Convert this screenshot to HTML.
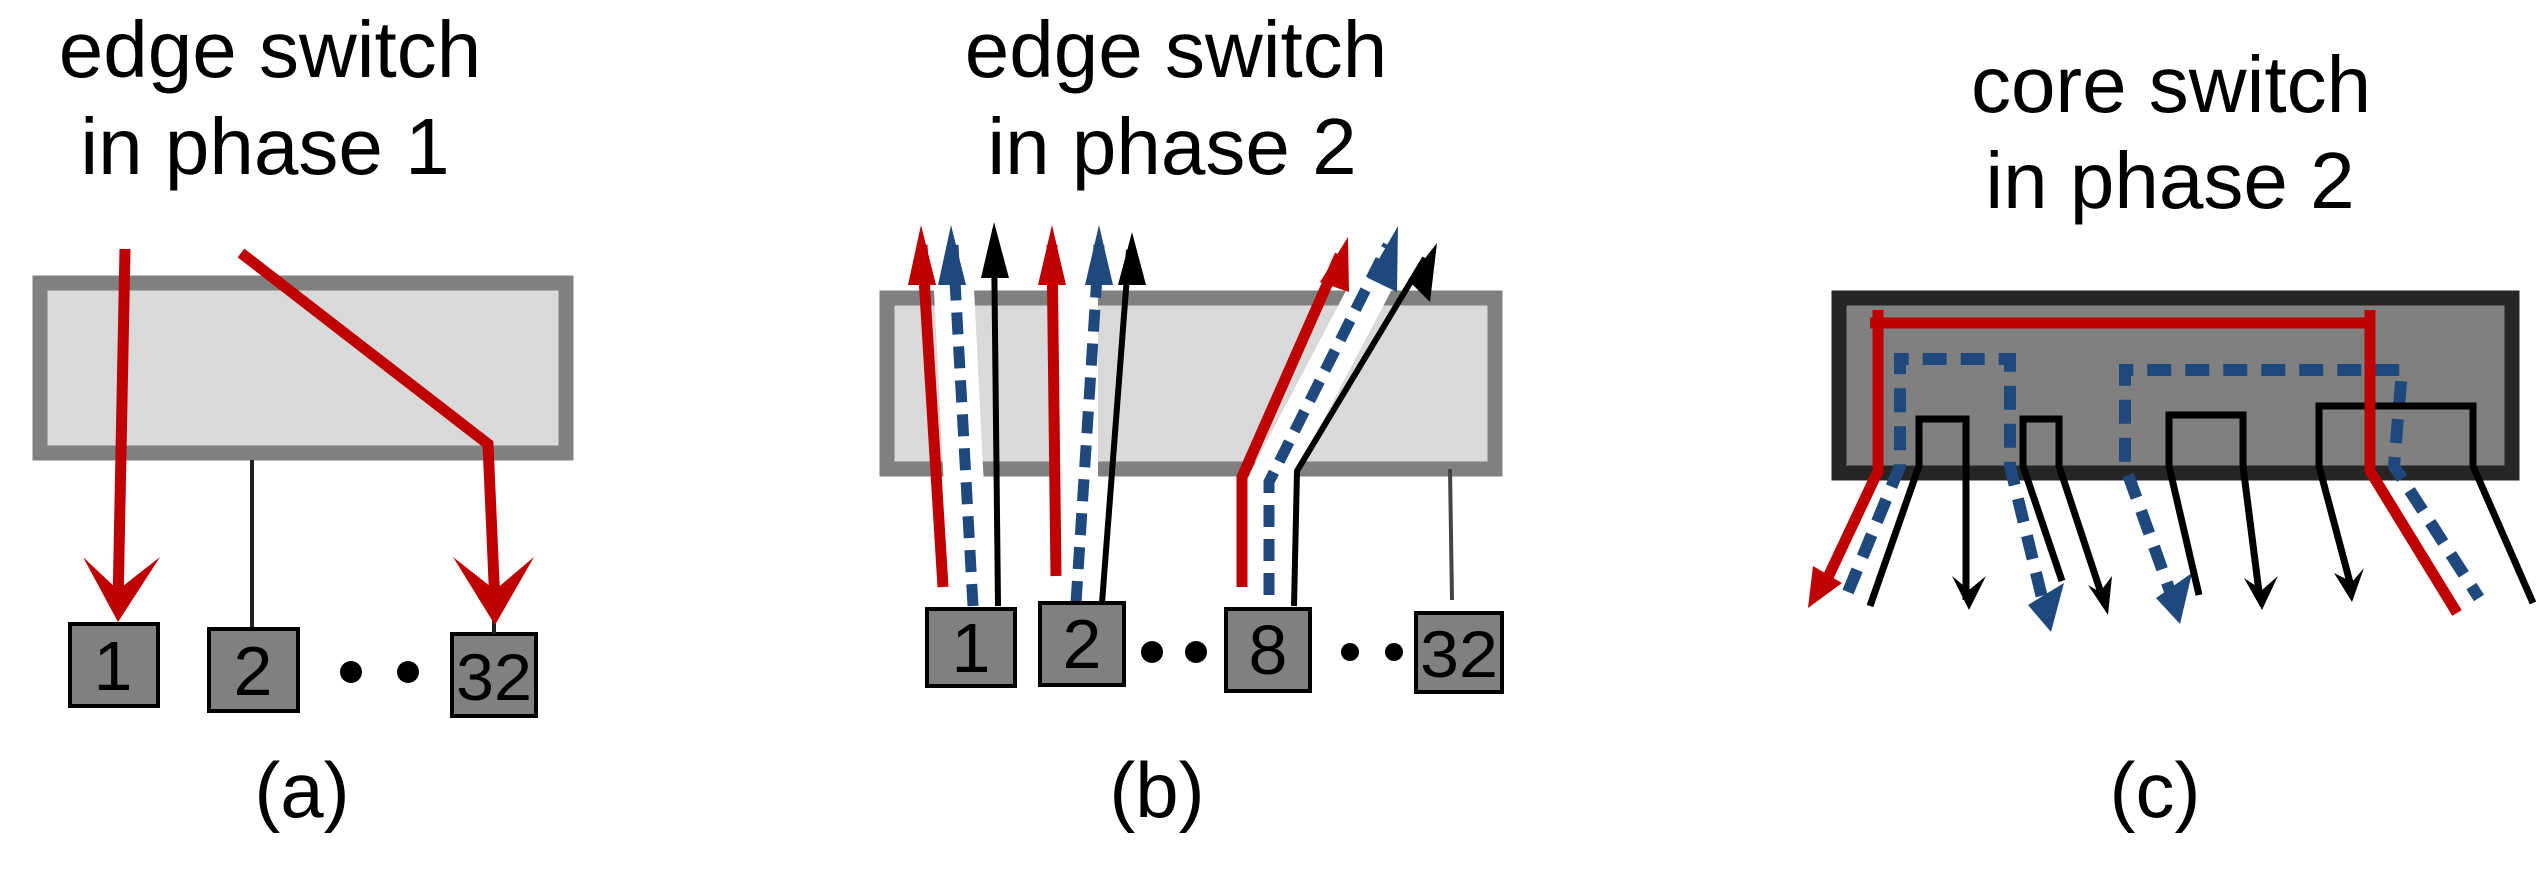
<!DOCTYPE html>
<html><head><meta charset="utf-8"><style>
html,body{margin:0;padding:0;background:#fff;}
svg{display:block;}
text{font-family:"Liberation Sans",sans-serif;fill:#000;}
</style></head><body>
<svg width="2539" height="870" viewBox="0 0 2539 870" xmlns="http://www.w3.org/2000/svg">
<!-- Titles -->
<text x="270" y="77" font-size="80" text-anchor="middle">edge switch</text>
<text x="265" y="174" font-size="80" text-anchor="middle">in phase 1</text>
<text x="1176" y="77" font-size="80" text-anchor="middle">edge switch</text>
<text x="1172" y="174" font-size="80" text-anchor="middle">in phase 2</text>
<text x="2171" y="112" font-size="80" text-anchor="middle">core switch</text>
<text x="2170" y="208" font-size="80" text-anchor="middle">in phase 2</text>
<text x="302" y="817" font-size="78" text-anchor="middle">(a)</text>
<text x="1157" y="817" font-size="78" text-anchor="middle">(b)</text>
<text x="2155" y="817" font-size="78" text-anchor="middle">(c)</text>

<!-- Panel a -->
<rect x="40" y="283" width="526" height="170" fill="#d9d9d9" stroke="#808080" stroke-width="15"/>
<line x1="252" y1="460" x2="252" y2="629" stroke="#222" stroke-width="4"/>
<rect x="70" y="624" width="88" height="82" fill="#808080" stroke="#000" stroke-width="4"/>
<rect x="209" y="629" width="89" height="82" fill="#808080" stroke="#000" stroke-width="4"/>
<rect x="452" y="634" width="84" height="82" fill="#808080" stroke="#000" stroke-width="4"/>
<text x="113" y="690" font-size="70" text-anchor="middle">1</text>
<text x="253" y="695" font-size="70" text-anchor="middle">2</text>
<text x="494" y="700" font-size="66" text-anchor="middle" textLength="76" lengthAdjust="spacingAndGlyphs">32</text>
<circle cx="351" cy="672" r="11"/><circle cx="408" cy="672" r="11"/>
<line x1="494" y1="600" x2="494" y2="634" stroke="#222" stroke-width="4"/>
<g stroke="#c00000" stroke-width="11" fill="none">
<polyline points="125,249 118,605"/>
<polyline points="241,253 488,444 495,605"/>
</g>
<polygon points="83,557 118,622 160,557 118,590" fill="#c00000"/>
<polygon points="453,557 495,625 534,557 495,590" fill="#c00000"/>

<!-- Panel b -->
<rect x="887" y="298" width="608" height="171" fill="#d9d9d9" stroke="#808080" stroke-width="15"/>
<line x1="1450" y1="469" x2="1452" y2="600" stroke="#444" stroke-width="4"/>
<g stroke="#fff" stroke-width="40" fill="none" stroke-linejoin="round">
<polyline points="970,606 952,250"/>
<polyline points="1078,603 1078,250"/>
<polyline points="1269,600 1269,480 1390,250"/>
</g>
<g fill="none">
<polyline points="998,606 994,240" stroke="#000" stroke-width="6"/>
<polyline points="973,606 953,245" stroke="#1f497d" stroke-width="11" stroke-dasharray="22,12"/>
<polyline points="943,587 922,245" stroke="#c00000" stroke-width="11"/>
<polyline points="1102,603 1129,250" stroke="#000" stroke-width="6"/>
<polyline points="1076,603 1099,245" stroke="#1f497d" stroke-width="11" stroke-dasharray="22,12"/>
<polyline points="1056,576 1052,245" stroke="#c00000" stroke-width="11"/>
<polyline points="1294,606 1297,471 1425,258" stroke="#000" stroke-width="6"/>
<polyline points="1269,595 1269,482 1388,245" stroke="#1f497d" stroke-width="11" stroke-dasharray="22,12"/>
<polyline points="1242,587 1242,477 1340,255" stroke="#c00000" stroke-width="11"/>
</g>
<polygon points="908,285 921,225 936,285" fill="#c00000"/>
<polygon points="938,285 951,225 966,285" fill="#1f497d"/>
<polygon points="981,278 994,222 1009,278" fill="#000"/>
<polygon points="1038,285 1052,225 1066,285" fill="#c00000"/>
<polygon points="1085,285 1099,225 1113,285" fill="#1f497d"/>
<polygon points="1118,285 1132,232 1146,285" fill="#000"/>
<polygon points="1320,282 1348,237 1349,292" fill="#c00000"/>
<polygon points="1368,278 1398,226 1397,292" fill="#1f497d"/>
<polygon points="1408,280 1437,243 1430,302" fill="#000"/>
<rect x="927" y="609" width="88" height="77" fill="#808080" stroke="#000" stroke-width="4"/>
<rect x="1040" y="603" width="84" height="82" fill="#808080" stroke="#000" stroke-width="4"/>
<rect x="1226" y="609" width="84" height="82" fill="#808080" stroke="#000" stroke-width="4"/>
<rect x="1416" y="613" width="86" height="79" fill="#808080" stroke="#000" stroke-width="4"/>
<text x="971" y="672" font-size="70" text-anchor="middle">1</text>
<text x="1082" y="668" font-size="70" text-anchor="middle">2</text>
<text x="1268" y="674" font-size="70" text-anchor="middle">8</text>
<text x="1459" y="677" font-size="66" text-anchor="middle" textLength="78" lengthAdjust="spacingAndGlyphs">32</text>
<circle cx="1152" cy="652" r="11"/><circle cx="1196" cy="652" r="11"/>
<circle cx="1350" cy="652" r="9"/><circle cx="1394" cy="652" r="9"/>

<!-- Panel c -->
<rect x="1839" y="298" width="673" height="175" fill="#808080" stroke="#262626" stroke-width="15"/>
<g fill="none" stroke-width="12" stroke="#1f497d" stroke-dasharray="24,14">
<polyline points="1848,592 1900,466 1900,359 2010,359 2010,466 2045,610"/>
<polyline points="2175,605 2125,466 2125,370 2402,370 2394,466 2479,598"/>
</g>
<polygon points="2028,605 2051,632 2064,583" fill="#1f497d"/>
<polygon points="2156,598 2180,624 2192,573" fill="#1f497d"/>
<g fill="none" stroke="#000" stroke-width="7">
<polyline points="1870,606 1919,466 1919,419 1966,419 1966,600"/>
<polyline points="2062,581 2023,466 2023,419 2059,419 2059,466 2105,605"/>
<polyline points="2199,595 2169,466 2169,415 2243,415 2243,466 2260,600"/>
<polyline points="2352,590 2319,466 2319,406 2473,406 2473,466 2533,603"/>
</g>
<polygon points="1952,576 1969,610 1986,576 1969,590" fill="#000"/>
<polygon points="2088,585 2108,615 2112,576 2100,592" fill="#000"/>
<polygon points="2244,578 2262,610 2278,576 2262,590" fill="#000"/>
<polygon points="2334,573 2352,602 2364,568 2352,582" fill="#000"/>
<g fill="none" stroke="#c00000" stroke-width="11">
<polyline points="1878,310 1878,471 1822,590"/>
<polyline points="1870,323 2375,323"/>
<polyline points="2370,310 2370,471 2457,613"/>
</g>
<polygon points="1808,608 1813,566 1842,583" fill="#c00000"/>
</svg>
</body></html>
